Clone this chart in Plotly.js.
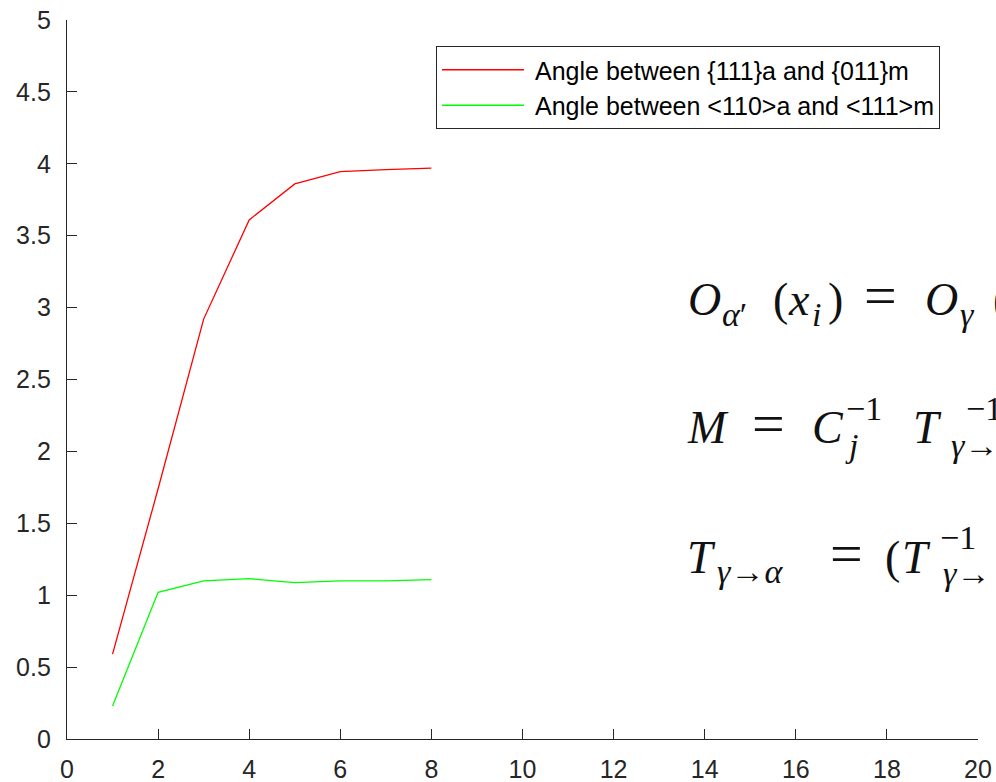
<!DOCTYPE html>
<html>
<head>
<meta charset="utf-8">
<script src="https://cdn.plot.ly/plotly-3.0.1.min.js"></script>
<style>
  html, body { margin: 0; padding: 0; background: #ffffff; }
  #chart { width: 996px; height: 782px; }
</style>
</head>
<body>
<div id="chart"></div>
<script>
// ---- data ----
const steps = [1, 2, 3, 4, 5, 6, 7, 8];
const angle111_011 = [0.59, 1.74, 2.92, 3.61, 3.86, 3.945, 3.96, 3.97];
const angle110_111 = [0.23, 1.02, 1.10, 1.115, 1.088, 1.099, 1.10, 1.108];
const seriesNames = ['Angle between {111}a and {011}m', 'Angle between <110>a and <111>m'];
const xTickVals = [0, 2, 4, 6, 8, 10, 12, 14, 16, 18, 20];
const xTickText = ['0', '2', '4', '6', '8', '10', '12', '14', '16', '18', '20'];
const yTickVals = [0, 0.5, 1, 1.5, 2, 2.5, 3, 3.5, 4, 4.5, 5];
const yTickText = ['0', '0.5', '1', '1.5', '2', '2.5', '3', '3.5', '4', '4.5', '5'];

// ---- layout geometry ----
const W = 996, H = 782;
const M = { l: 67, r: 18, t: 20, b: 43 };
const plotW = W - M.l - M.r, plotH = H - M.t - M.b;
const axisColor = '#262626';
const sansFont = 'Liberation Sans, Arial, sans-serif';
const mathFont = 'Liberation Serif, Times New Roman, serif';

// equation pieces: [left px, baseline px, text, font size]
const eqPieces = [
  // O_{α'}(x_i) = O_γ(x_i) ...
  [688, 315, '<i>O</i>', 46],
  [722, 326, '<i>α</i>′', 34],
  [773, 315, '(', 46],
  [788, 315, '<i>x</i>', 46],
  [812, 326, '<i>i</i>', 34],
  [828, 315, ')', 46],
  [864, 315, '=', 58],
  [925, 315, '<i>O</i>', 46],
  [960, 326, '<i>γ</i>', 34],
  [993, 315, '(<i>x</i>', 46],
  // M = C_j^{-1} T_{γ→}^{-1}
  [687, 443, '<i>M</i>', 46],
  [752, 443, '=', 58],
  [812, 443, '<i>C</i>', 46],
  [846, 420, '−1', 34],
  [845, 457, '<i>j</i>', 34],
  [913, 443, '<i>T</i>', 46],
  [966, 420, '−1', 34],
  [951, 457, '<i>γ</i>→', 34],
  // T_{γ→α} = (T_{γ→}^{-1} ...
  [687, 573, '<i>T</i>', 46],
  [717, 583, '<i>γ</i>→<i>α</i>', 34],
  [830, 573, '=', 58],
  [885, 573, '(', 46],
  [902, 573, '<i>T</i>', 46],
  [940, 549, '−1', 34],
  [943, 585, '<i>γ</i>→', 34]
];

function eqAnnotation(p) {
  const px = p[0], base = p[1], txt = p[2], size = p[3];
  const cy = base - 0.34 * size;
  return {
    xref: 'paper', yref: 'paper',
    x: (px - M.l) / plotW,
    y: (H - M.b - cy) / plotH,
    xanchor: 'left', yanchor: 'middle',
    text: txt, showarrow: false,
    borderpad: 0, borderwidth: 0,
    font: { family: mathFont, size: size, color: '#111111' }
  };
}

const traces = [
  { x: steps, y: angle111_011, name: seriesNames[0], type: 'scatter', mode: 'lines',
    line: { color: '#ff0000', width: 1.3 } },
  { x: steps, y: angle110_111, name: seriesNames[1], type: 'scatter', mode: 'lines',
    line: { color: '#00ff00', width: 1.3 } }
];

const axisCommon = {
  showgrid: false, zeroline: false, showline: true,
  linecolor: axisColor, linewidth: 1.2,
  ticks: 'inside', ticklen: 10, tickwidth: 1, tickcolor: axisColor,
  tickfont: { family: sansFont, size: 25, color: axisColor },
  tickmode: 'array'
};

const layout = {
  width: W, height: H,
  margin: { l: M.l, r: M.r, t: M.t, b: M.b, pad: 0 },
  paper_bgcolor: '#ffffff', plot_bgcolor: '#ffffff',
  showlegend: true,
  legend: {
    x: (436 - M.l) / plotW, y: (H - M.b - 46) / plotH,
    xanchor: 'left', yanchor: 'top',
    bgcolor: '#ffffff', bordercolor: axisColor, borderwidth: 1,
    font: { family: sansFont, size: 25, color: '#000000' },
    itemwidth: 88, tracegroupgap: 0
  },
  xaxis: Object.assign({}, axisCommon, {
    range: [0, 20], tickvals: xTickVals, ticktext: xTickText, ticklabelstandoff: 8
  }),
  yaxis: Object.assign({}, axisCommon, {
    range: [0, 5], tickvals: yTickVals, ticktext: yTickText, ticklabelstandoff: 10
  }),
  annotations: eqPieces.map(eqAnnotation)
};

Plotly.newPlot('chart', traces, layout, { displayModeBar: false, staticPlot: true }).then(function (gd) {
  // extend legend line samples to match the reference's long swatches
  gd.querySelectorAll('.legend .legendlines path').forEach(function (p) {
    p.setAttribute('d', 'M5,0h82');
  });
});
</script>
</body>
</html>
